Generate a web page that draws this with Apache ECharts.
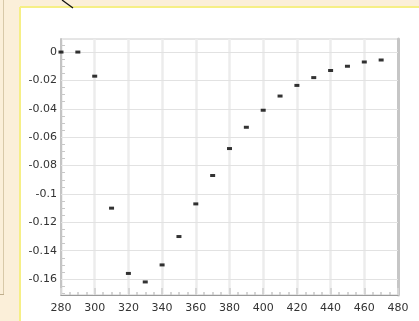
<!DOCTYPE html>
<html>
<head>
<meta charset="utf-8">
<script src="https://cdn.jsdelivr.net/npm/echarts@6/dist/echarts.min.js"></script>
<style>html,body{margin:0;padding:0;background:#fbefd9;}#c{width:419px;height:321px;}</style>
</head>
<body>
<div id="c"></div>
<script>
const energies = [280,290,300,310,320,330,340,350,360,370,380,390,400,410,420,430,440,450,460,470];
const deltas = [0,0,-0.017,-0.110,-0.156,-0.162,-0.150,-0.130,-0.107,-0.087,-0.068,-0.053,-0.041,-0.031,-0.0235,-0.018,-0.013,-0.010,-0.007,-0.0056];
const yMajorTicks = [0,-0.02,-0.04,-0.06,-0.08,-0.1,-0.12,-0.14,-0.16];
const yTickLabels = ['0','-0.02','-0.04','-0.06','-0.08','-0.1','-0.12','-0.14','-0.16'];
const yMinorTicks = [0.005,0,-0.005,-0.01,-0.015,-0.02,-0.025,-0.03,-0.035,-0.04,-0.045,-0.05,-0.055,-0.06,-0.065,-0.07,-0.075,-0.08,-0.085,-0.09,-0.095,-0.1,-0.105,-0.11,-0.115,-0.12,-0.125,-0.13,-0.135,-0.14,-0.145,-0.15,-0.155,-0.16,-0.165,-0.17];
const xMin = 280, xMax = 480, xStep = 20;
const yMin = -0.1712, yMax = 0.0092;

const chart = echarts.init(document.getElementById('c'), null, {renderer:'canvas'});
const font = 'DejaVu Sans';
const labelFor = v => {
  let best = 0, bd = 1;
  yMajorTicks.forEach((t,i)=>{ const d=Math.abs(t-v); if(d<bd){bd=d;best=i;} });
  return yTickLabels[best];
};
chart.setOption({
  animation:false,
  backgroundColor:'#fbefd9',
  graphic:[
    {type:'rect', z:-10, shape:{x:21,y:8,width:398,height:313}, style:{fill:'#ffffff'}, silent:true},
    {type:'line', z:-9, shape:{x1:20,y1:7,x2:419,y2:7}, style:{stroke:'#f6ef86',lineWidth:2}, silent:true},
    {type:'line', z:-9, shape:{x1:20,y1:7,x2:20,y2:321}, style:{stroke:'#f6ef86',lineWidth:2}, silent:true},
    {type:'line', z:-9, shape:{x1:3.5,y1:0,x2:3.5,y2:294}, style:{stroke:'#d8c9a8',lineWidth:1}, silent:true},
    {type:'line', z:-9, shape:{x1:0,y1:294.5,x2:4,y2:294.5}, style:{stroke:'#bfae8c',lineWidth:1}, silent:true},
    {type:'line', z:50, shape:{x1:62,y1:0,x2:73,y2:8}, style:{stroke:'#111',lineWidth:1.3}, silent:true}
  ],
  grid:{left:61, right:21, top:39, bottom:26, show:true, borderColor:'#cccccc', borderWidth:1, backgroundColor:'transparent'},
  xAxis:[{
    type:'value', min:xMin, max:xMax, interval:xStep,
    axisLine:{show:true, onZero:false, lineStyle:{color:'#9a9a9a', width:1}},
    axisTick:{show:true, inside:true, length:7, lineStyle:{color:'#d6d6d6', width:2}},
    minorTick:{show:true, splitNumber:4, length:3, lineStyle:{color:'#c8c8c8', width:1.5}},
    splitLine:{show:true, lineStyle:{color:'#ececec', width:2.5}},
    axisLabel:{margin:8, fontFamily:font, fontSize:11, color:'#333'}
  }],
  yAxis:[{
    type:'value', min:yMin, max:yMax, position:'left',
    axisLine:{show:true, onZero:false, lineStyle:{color:'#c4c4c4', width:2}},
    axisTick:{show:true, inside:true, length:4, customValues:yMinorTicks, lineStyle:{color:'#c8c8c8', width:1}},
    splitLine:{show:false},
    axisLabel:{show:true, customValues:yMajorTicks, margin:4, fontFamily:font, fontSize:11, color:'#333', formatter:labelFor}
  },{
    type:'value', min:yMin, max:yMax, position:'left', offset:0,
    axisLine:{show:false},
    axisTick:{show:true, inside:true, length:7, customValues:yMajorTicks, lineStyle:{color:'#bbbbbb', width:1}},
    splitLine:{show:false},
    axisLabel:{show:false}
  },{
    type:'value', min:yMin, max:yMax, position:'right', offset:0,
    axisLine:{show:true, onZero:false, lineStyle:{color:'#c6c6c6', width:3}},
    axisTick:{show:false}, splitLine:{show:false}, axisLabel:{show:false}
  }],
  series:[{
    type:'scatter',
    xAxisIndex:0, yAxisIndex:0,
    symbol:'rect', symbolSize:[5,3],
    itemStyle:{color:'#000'},
    data: energies.map((e,i)=>[e, deltas[i]]),
    z:10,
    markLine:{
      silent:true, symbol:'none', animation:false,
      label:{show:false},
      lineStyle:{color:'#e2e2e2', width:1, type:'solid'},
      data: yMajorTicks.map(v=>({yAxis:v}))
    }
  }]
});
</script>
</body>
</html>
